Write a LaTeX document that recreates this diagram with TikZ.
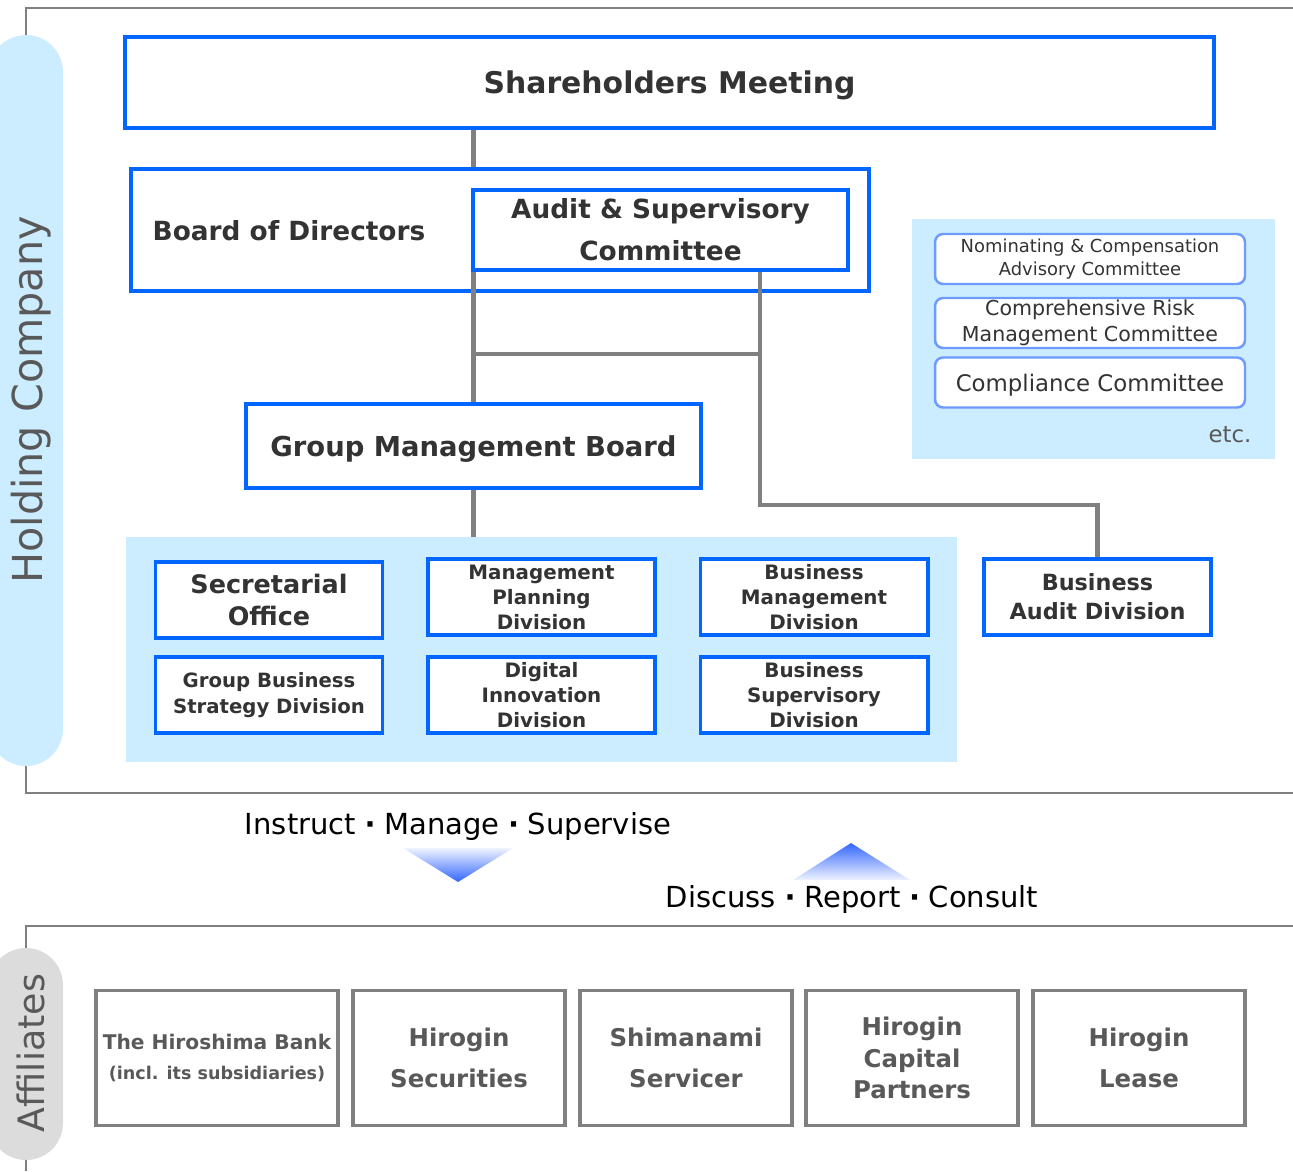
\documentclass[tikz,border=0pt]{standalone}
\usepackage{fontspec}
\setmainfont{DejaVu Sans}
\usetikzlibrary{positioning}
\definecolor{orgblue}{HTML}{0066FF}
\definecolor{paleblue}{HTML}{CCECFF}
\definecolor{comblue}{HTML}{6E9BFF}
\definecolor{linegray}{HTML}{808080}
\definecolor{tabgray}{HTML}{DCDCDC}
\definecolor{boxtext}{HTML}{333333}
\definecolor{afftext}{HTML}{595959}
\definecolor{arrowblue}{HTML}{3366FF}
\newcommand{\fs}[2]{\fontsize{#1}{#2}\selectfont}
\newcommand{\midpt}{\hspace{0.3em}\textbf{·}\hspace{0.3em}}

\begin{document}
\begin{tikzpicture}[x=0.02cm, y=-0.02cm,
    orgbox/.style={draw=orgblue, line width=2pt, fill=white, text=boxtext, align=center, inner sep=0pt},
    divbox/.style={orgbox, minimum width=4.55cm, minimum height=1.52cm},
    combox/.style={draw=comblue, line width=1.4pt, fill=white, rounded corners=0.16cm, text=boxtext, align=center, inner sep=0pt, minimum width=6.2cm, minimum height=1cm},
    affbox/.style={draw=linegray, line width=2.2pt, fill=white, text=afftext, align=center, inner sep=0pt, minimum width=4.24cm, minimum height=2.7cm},
    conn/.style={draw=linegray, line width=2.8pt},
    frame/.style={draw=linegray, line width=1.1pt}]
    \useasboundingbox (0,0) rectangle (1293,1171);
    \clip (0,0) rectangle (1293,1171);

    % frames and side tabs
    \draw[frame] (1293,8) -- (26,8) -- (26,793) -- (1293,793);
    \draw[frame] (1293,926) -- (26,926) -- (26,1171);
    \fill[paleblue, rounded corners=0.74cm] (-11,35) rectangle (63,766);
    \fill[tabgray, rounded corners=0.74cm] (-11,948) rectangle (63,1160);
    \node[rotate=90, text=afftext, font=\fs{23.5}{26}] (holding) at (31,400) {Holding Company};
    \node[rotate=90, text=afftext, font=\fs{20.7}{24}] (affil) at (31,1053) {Affiliates};

    % holding company
    \node[orgbox, minimum width=21.78cm, minimum height=1.82cm, text depth=0pt, font=\bfseries\fs{17}{20}] (sh) at (669.5,82.5) {Shareholders Meeting};
    \node[orgbox, minimum width=14.76cm, minimum height=2.44cm] (board) at (500,230) {};
    \node[text=boxtext, font=\bfseries\fs{15}{18}] (boardtext) at (289,231) {Board of Directors};
    \node[orgbox, minimum width=7.5cm, minimum height=1.6cm, font=\bfseries\fs{15}{24}] (audit) at (660.5,230) {Audit \& Supervisory\\Committee};
    \node[orgbox, minimum width=9.1cm, minimum height=1.68cm, text depth=0pt, font=\bfseries\fs{15.6}{18}] (gmb) at (473.5,446) {Group Management Board};

    \node[fill=paleblue, minimum width=16.62cm, minimum height=4.5cm, inner sep=0pt] (divs) at (541.5,649.5) {};
    \node[divbox, font=\bfseries\fs{14.5}{18.7}] (sec) at (269,600) {Secretarial\\Office};
    \node[divbox, font=\bfseries\fs{11.3}{14.2}] (mpd) at (541.5,597) {Management\\Planning\\Division};
    \node[divbox, font=\bfseries\fs{11.3}{14.2}] (bmd) at (814,597) {Business\\Management\\Division};
    \node[divbox, font=\bfseries\fs{11.2}{14.7}] (gbs) at (269,695) {Group Business\\Strategy Division};
    \node[divbox, font=\bfseries\fs{11.3}{14.2}] (did) at (541.5,695) {Digital\\Innovation\\Division};
    \node[divbox, font=\bfseries\fs{11.3}{14.2}] (bsd) at (814,695) {Business\\Supervisory\\Division};
    \node[divbox, font=\bfseries\fs{12.7}{16.5}] (bad) at (1097.5,597) {Business\\Audit Division};

    \node[fill=paleblue, minimum width=7.26cm, minimum height=4.8cm, inner sep=0pt] (coms) at (1093.5,339) {};
    \node[combox, font=\fs{10.2}{13}] (nca) at (1090,259) {Nominating \& Compensation\\Advisory Committee};
    \node[combox, font=\fs{11.7}{14.7}] (crm) at (1090,323) {Comprehensive Risk\\Management Committee};
    \node[combox, text depth=0pt, font=\fs{13}{15}] (comp) at (1090,382.5) {Compliance Committee};
    \node[text=afftext, font=\fs{13}{15}] (etc) at (1230,435) {etc.};

    % connectors
    \coordinate (split) at (760,354);
    \coordinate (bend) at (760,505);
    \draw[conn] (gmb.north |- sh.south) -- (gmb.north |- board.north);
    \draw[conn] (gmb.north |- audit.south) -- (gmb.north);
    \draw[conn] (gmb.north |- split) -- (split);
    \draw[conn] (audit.south -| split) -- (bend) -| (bad.north);
    \draw[conn] (gmb.south) -- (gmb.south |- divs.north);

    % flows
    \node[font=\fs{16.5}{18}] (instr) at (458,826) {Instruct\midpt Manage\midpt Supervise};
    \node[font=\fs{16.5}{18}] (disc) at (852,899) {Discuss\midpt Report\midpt Consult};
    \shade[top color=arrowblue!8, middle color=arrowblue!72, bottom color=arrowblue] (403,848) -- (513,848) -- (458,882) -- cycle;
    \shade[top color=arrowblue, middle color=arrowblue!72, bottom color=arrowblue!8] (851,843) -- (910,880) -- (793,880) -- cycle;

    % affiliates
    \node[affbox, minimum width=4.84cm, font=\bfseries\fs{11.5}{14}] (hbank) at (217,1058) {The Hiroshima Bank\\[3pt]{\fs{10}{12}(incl. its subsidiaries)}};
    \node[affbox, font=\bfseries\fs{13.9}{23.2}] (hsec) at (459,1058) {Hirogin\\Securities};
    \node[affbox, font=\bfseries\fs{13.9}{23.2}] (shim) at (686,1058) {Shimanami\\Servicer};
    \node[affbox, font=\bfseries\fs{13.9}{18.1}] (hcap) at (912,1058) {Hirogin\\Capital\\Partners};
    \node[affbox, font=\bfseries\fs{13.9}{23.2}] (hlease) at (1139,1058) {Hirogin\\Lease};
\end{tikzpicture}
\end{document}
